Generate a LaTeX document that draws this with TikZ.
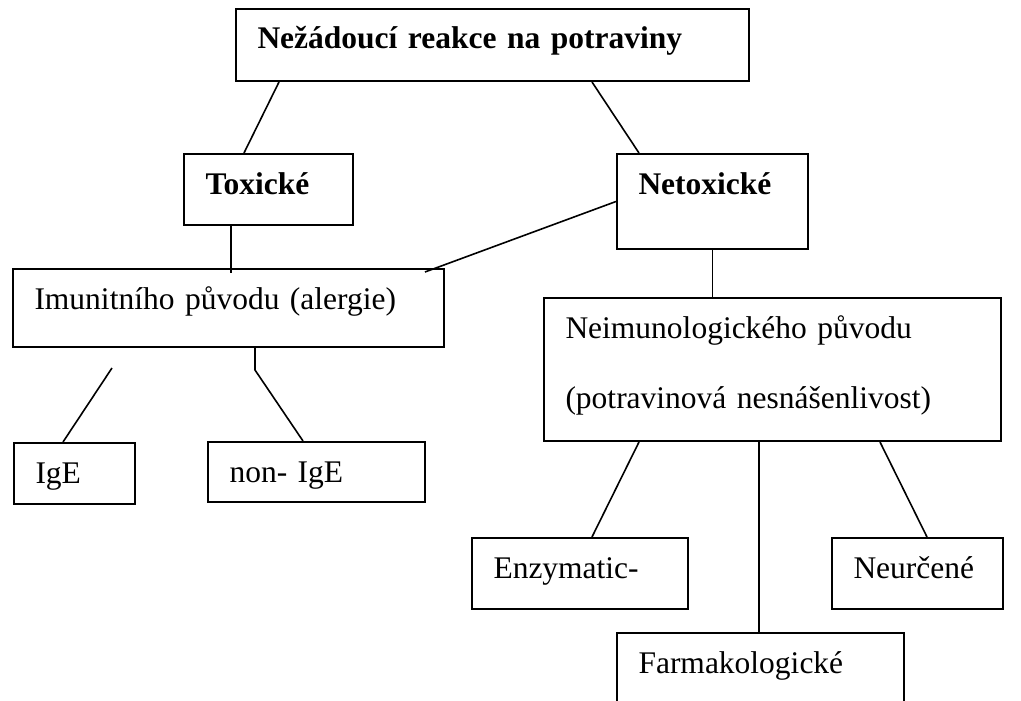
\documentclass[tikz,border=0pt]{standalone}
\usepackage{fontspec}
\setmainfont{Liberation Serif}

\tikzset{
  box/.style 2 args={draw, line width=2pt, anchor=north west, inner sep=0pt,
    text width=#1, text height=40pt, text depth=#2, align=left,
    execute at begin node={\leftskip=21.5pt},
    font=\fontsize{31.5}{36}\selectfont},
  bold/.style={font=\fontsize{31.5}{36}\selectfont\bfseries},
  link/.style={line width=1.6pt},
}

\begin{document}
\begin{tikzpicture}[x=1pt,y=-1pt]
\clip (0,0) rectangle (1021,701);
\fill [white] (0,0) rectangle (1021,701);

\node [box={513pt}{32pt}, bold] (top) at (235,8) {Nežádoucí reakce na potraviny};
\node [box={169pt}{31pt}, bold] (tox) at (183,153) {Toxické};
\node [box={191pt}{55pt}, bold] (netox) at (616,153) {Netoxické};
\node [box={431pt}{38pt}] (imun) at (12,268) {Imunitního původu (alergie)};
\node [box={457pt}{103pt}] (neimun) at (543,297) {Neimunologického původu\\[34pt](potravinová nesnášenlivost)};
\node [box={121pt}{21pt}] (ige) at (13,442) {IgE};
\node [box={217pt}{20pt}] (nonige) at (207,441) {non- IgE};
\node [box={216pt}{31pt}] (enzym) at (471,537) {Enzymatic-};
\node [box={171pt}{31pt}] (neurc) at (831,537) {Neurčené};
\node [box={287pt}{60pt}] (farma) at (616,632) {Farmakologické};

\coordinate (toxfoot) at ([xshift=48pt]tox.south west);
\coordinate (imunend) at ([shift={(-20pt,-4pt)}]imun.north east);
\coordinate (igestub) at (112,368);
\coordinate (neimfoot) at ([xshift=216pt]neimun.south west);

\draw [link] ([xshift=44pt]top.south west) -- ([xshift=61pt]tox.north west);
\draw [link] ([xshift=357pt]top.south west) -- ([xshift=23pt]netox.north west);
\draw [link] (toxfoot) -- ([yshift=-5pt]toxfoot |- imun.north);
\draw [link] (netox.west) -- (imunend);
\draw [link] (netox.south) -- (netox.south |- neimun.north);

\draw [link] (igestub) -- ([xshift=50pt]ige.north west);
\draw [link] ([xshift=243pt]imun.south west) -- ++(0pt,-22pt) -- ([xshift=96pt]nonige.north west);

\draw [link] ([xshift=96pt]neimun.south west) -- ([xshift=121pt]enzym.north west);
\draw [link] (neimfoot) -- (neimfoot |- farma.north);
\draw [link] ([xshift=337pt]neimun.south west) -- ([xshift=96pt]neurc.north west);

\end{tikzpicture}
\end{document}
